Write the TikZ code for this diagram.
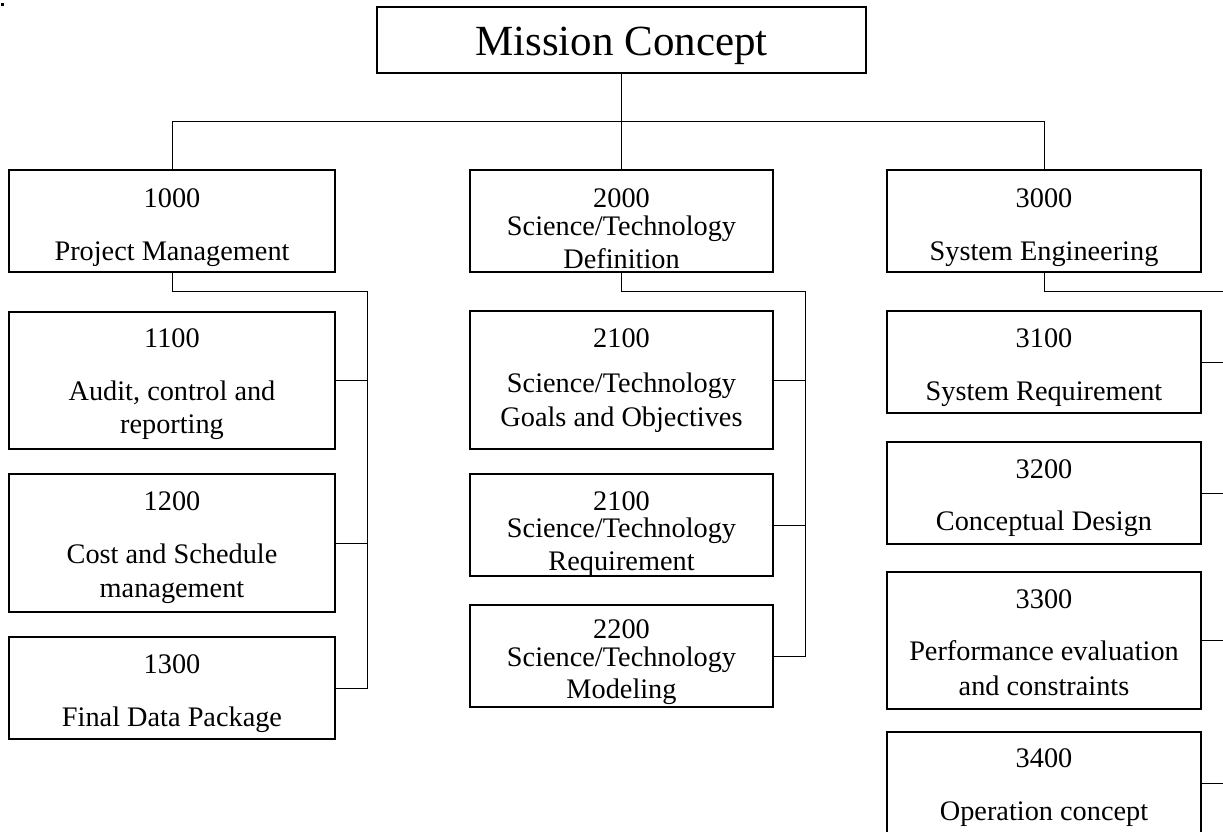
\documentclass[tikz,border=0pt]{standalone}
\usepackage{fontspec}
\setmainfont{Liberation Serif}
\begin{document}
\begin{tikzpicture}[x=1pt,y=-1pt,
  box/.style={draw=black, line width=1.1pt, inner sep=0pt, outer sep=0pt, anchor=north west},
  txt/.style={anchor=base, inner sep=0pt, font=\fontsize{28.3pt}{33pt}\selectfont},
  bigtxt/.style={anchor=base, inner sep=0pt, font=\fontsize{43pt}{50pt}\selectfont},
  conn/.style={draw=black, line width=1pt}]
\clip (0,0) rectangle (1223,831);
\fill[white] (0,0) rectangle (1223,831);
\fill[black] (1,3) rectangle (3.5,5.5);

% top box
\node[box, minimum width=489pt, minimum height=66pt] (mc) at (377,7) {};
\node[bigtxt] (mct) at (621.5,55) {Mission Concept};

% column 1
\node[box, minimum width=326pt, minimum height=102pt] (b1000) at (9,170) {};
\node[box, minimum width=326pt, minimum height=137pt] (b1100) at (9,312) {};
\node[box, minimum width=326pt, minimum height=138pt] (b1200) at (9,474) {};
\node[box, minimum width=326pt, minimum height=102pt] (b1300) at (9,637) {};
\node[txt] (t1000a) at (172,207) {1000};
\node[txt] (t1000b) at (172,260) {Project Management};
\node[txt] (t1100a) at (172,347) {1100};
\node[txt] (t1100b) at (172,400) {Audit, control and};
\node[txt] (t1100c) at (172,433) {reporting};
\node[txt] (t1200a) at (172,510) {1200};
\node[txt] (t1200b) at (172,563) {Cost and Schedule};
\node[txt] (t1200c) at (172,597) {management};
\node[txt] (t1300a) at (172,673) {1300};
\node[txt] (t1300b) at (172,726) {Final Data Package};

% column 2
\node[box, minimum width=303pt, minimum height=102pt] (b2000) at (470,170) {};
\node[box, minimum width=303pt, minimum height=138pt] (b2100) at (470,311) {};
\node[box, minimum width=303pt, minimum height=102pt] (b2110) at (470,474) {};
\node[box, minimum width=303pt, minimum height=102pt] (b2200) at (470,605) {};
\node[txt] (t2000a) at (621.5,207) {2000};
\node[txt] (t2000b) at (621.5,235) {Science/Technology};
\node[txt] (t2000c) at (621.5,268) {Definition};
\node[txt] (t2100a) at (621.5,347) {2100};
\node[txt] (t2100b) at (621.5,392) {Science/Technology};
\node[txt] (t2100c) at (621.5,426) {Goals and Objectives};
\node[txt] (t2110a) at (621.5,510) {2100};
\node[txt] (t2110b) at (621.5,537) {Science/Technology};
\node[txt] (t2110c) at (621.5,570) {Requirement};
\node[txt] (t2200a) at (621.5,638) {2200};
\node[txt] (t2200b) at (621.5,666) {Science/Technology};
\node[txt] (t2200c) at (621.5,698) {Modeling};

% column 3
\node[box, minimum width=314pt, minimum height=102pt] (b3000) at (887,170) {};
\node[box, minimum width=314pt, minimum height=102pt] (b3100) at (887,311) {};
\node[box, minimum width=314pt, minimum height=102pt] (b3200) at (887,442) {};
\node[box, minimum width=314pt, minimum height=137pt] (b3300) at (887,572) {};
\node[box, minimum width=314pt, minimum height=102pt] (b3400) at (887,732) {};
\node[txt] (t3000a) at (1044,207) {3000};
\node[txt] (t3000b) at (1044,260) {System Engineering};
\node[txt] (t3100a) at (1044,347) {3100};
\node[txt] (t3100b) at (1044,400) {System Requirement};
\node[txt] (t3200a) at (1044,478) {3200};
\node[txt] (t3200b) at (1044,530) {Conceptual Design};
\node[txt] (t3300a) at (1044,608) {3300};
\node[txt] (t3300b) at (1044,660) {Performance evaluation};
\node[txt] (t3300c) at (1044,695) {and constraints};
\node[txt] (t3400a) at (1044,767) {3400};
\node[txt] (t3400b) at (1044,820) {Operation concept};

% connectors
\coordinate (bus) at (621.5,121);
\draw[conn] (mc.south) -- (mc.south |- bus);
\draw[conn] (b1000.north |- bus) -- (b3000.north |- bus);
\draw[conn] (b1000.north) -- (b1000.north |- bus);
\draw[conn] (b2000.north) -- (b2000.north |- bus);
\draw[conn] (b3000.north) -- (b3000.north |- bus);

\coordinate (r1) at (367,291);
\draw[conn] (b1000.south) |- (r1) -- (r1 |- b1300.east) -- (b1300.east);
\draw[conn] (b1100.east) -- (b1100.east -| r1);
\draw[conn] (b1200.east) -- (b1200.east -| r1);

\coordinate (r2) at (805,291);
\draw[conn] (b2000.south) |- (r2) -- (r2 |- b2200.east) -- (b2200.east);
\draw[conn] (b2100.east) -- (b2100.east -| r2);
\draw[conn] (b2110.east) -- (b2110.east -| r2);

\coordinate (r3) at (1240,291);
\draw[conn] (b3000.south) |- (r3);
\draw[conn] (b3100.east) -- (b3100.east -| r3);
\draw[conn] (b3200.east) -- (b3200.east -| r3);
\draw[conn] (b3300.east) -- (b3300.east -| r3);
\draw[conn] (b3400.east) -- (b3400.east -| r3);
\end{tikzpicture}
\end{document}
